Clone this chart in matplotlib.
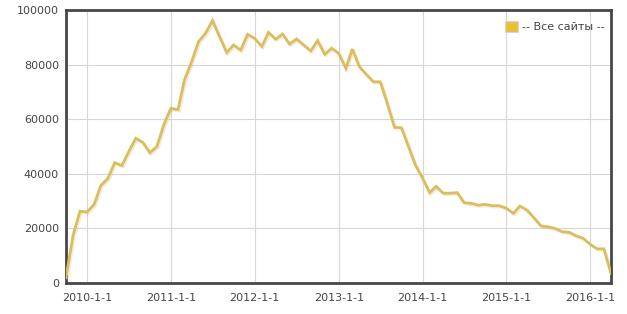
import matplotlib
matplotlib.use("Agg")
import matplotlib.pyplot as plt
import matplotlib.patheffects as pe
from matplotlib.patches import Patch
import pandas as pd

start_month = "2009-10-01"
values = [
    2.0, 17.6, 26.3,                                                   # 2009
    26.0, 28.9, 35.6, 38.3, 44.1, 43.0, 48.1, 53.0, 51.5, 47.7, 50.0, 58.0,  # 2010
    64.0, 63.5, 74.4, 81.0, 88.4, 91.5, 96.1, 90.2, 84.4, 87.2, 85.3, 91.1,  # 2011
    89.6, 86.6, 91.8, 89.3, 91.2, 87.5, 89.4, 87.2, 85.0, 88.8, 83.8, 86.0,  # 2012
    84.1, 78.6, 85.7, 79.2, 76.4, 73.7, 73.7, 65.6, 57.0, 56.9, 49.9, 43.2,  # 2013
    38.4, 33.1, 35.4, 32.9, 32.9, 33.1, 29.4, 29.2, 28.5, 28.8, 28.3, 28.3,  # 2014
    27.4, 25.5, 28.2, 26.7, 23.9, 20.9, 20.6, 20.0, 18.8, 18.6, 17.3, 16.4,  # 2015
    14.2, 12.5, 12.5, 3.5,                                             # 2016
]
values = [v * 1000 for v in values]
series_label = "-- Все сайты --"
x_tick_dates = ["2010-01-01", "2011-01-01", "2012-01-01", "2013-01-01",
                "2014-01-01", "2015-01-01", "2016-01-01"]
x_tick_labels = ["2010-1-1", "2011-1-1", "2012-1-1", "2013-1-1",
                 "2014-1-1", "2015-1-1", "2016-1-1"]
y_ticks = [0, 20000, 40000, 60000, 80000, 100000]

dates = pd.date_range(start_month, periods=len(values), freq="MS")

fig = plt.figure(figsize=(6.27, 3.14), dpi=100)
ax = fig.add_axes([66 / 627, 1 - 283 / 314, (611 - 66) / 627, (283 - 10) / 314])

line_color = "#dcbd5e"
ax.plot(dates, values, color=line_color, lw=2.0, solid_joinstyle="miter",
        path_effects=[pe.SimpleLineShadow(offset=(1, -1), shadow_color="#c8b070", alpha=0.25),
                      pe.Normal()], zorder=3)

ax.set_xlim(dates[0], dates[-1])
ax.set_ylim(0, 100000)
ax.set_xticks([pd.Timestamp(s) for s in x_tick_dates])
ax.set_xticklabels(x_tick_labels)
ax.set_yticks(y_ticks)
ax.set_yticklabels([str(v) for v in y_ticks])

ax.grid(True, color="#d6d6d6", lw=0.8)
ax.set_axisbelow(True)
for s in ax.spines.values():
    s.set_color("#474747")
    s.set_linewidth(2.0)
ax.tick_params(axis="both", length=0, labelsize=8, labelcolor="#444444")
ax.tick_params(axis="x", pad=7)
ax.tick_params(axis="y", pad=5)

leg = ax.legend(handles=[Patch(facecolor="#e8c03c", edgecolor="#d8d8d8", lw=0.8)],
                labels=[series_label], loc="upper right", frameon=False,
                fontsize=8, handlelength=1.2, handleheight=1.2, handletextpad=0.3,
                borderaxespad=0.2, bbox_to_anchor=(1.0, 0.985))
for t in leg.get_texts():
    t.set_color("#444444")

fig.savefig("out.png", dpi=100)
